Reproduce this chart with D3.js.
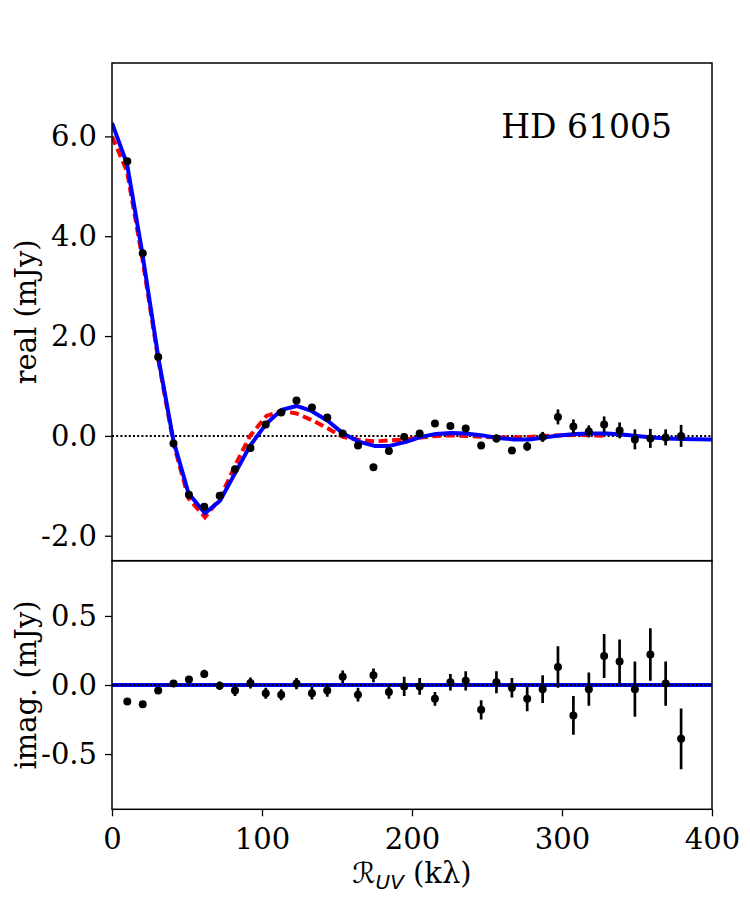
<!DOCTYPE html>
<html>
<head>
<meta charset="utf-8">
<script src="https://cdn.jsdelivr.net/npm/d3@7"></script>
<style>
  body { margin: 0; background: #fff; }
  text { font-family: "DejaVu Serif", serif; fill: #000; }
</style>
</head>
<body>
<svg class="plot" width="750" height="900"></svg>
<script>
// binned uv distances (klambda)
var uvDist = [10.2, 20.5, 30.8, 41.0, 51.3, 61.5, 71.8, 82.0, 92.3, 102.5, 112.8, 123.0, 133.3,
  143.5, 153.8, 164.0, 174.3, 184.6, 194.8, 205.1, 215.3, 225.6, 235.8, 246.1, 256.3, 266.6,
  276.8, 287.1, 297.3, 307.6, 317.9, 328.1, 338.4, 348.6, 358.9, 369.1, 379.4];
// real part of visibilities (mJy)
var realVis = [5.50, 3.66, 1.58, -0.15, -1.18, -1.42, -1.20, -0.67, -0.24, 0.23, 0.47, 0.71, 0.57,
  0.37, 0.05, -0.19, -0.63, -0.30, -0.02, 0.05, 0.25, 0.20, 0.15, -0.19, -0.05, -0.29,
  -0.21, -0.02, 0.38, 0.19, 0.09, 0.23, 0.11, -0.07, -0.05, -0.03, 0.00];
// imaginary part (mJy)
var imagVis = [-0.12, -0.14, -0.04, 0.01, 0.04, 0.08, -0.005, -0.04, 0.015, -0.06, -0.07, 0.01, -0.06,
  -0.04, 0.06, -0.07, 0.07, -0.05, -0.01, -0.01, -0.10, 0.02, 0.03, -0.18, 0.02, -0.02,
  -0.10, -0.03, 0.13, -0.22, -0.03, 0.21, 0.17, -0.03, 0.22, 0.01, -0.39];
// 1-sigma uncertainties (mJy)
var visErr = [0.01, 0.01, 0.015, 0.015, 0.02, 0.03, 0.03, 0.04, 0.04, 0.04, 0.04, 0.04, 0.045,
  0.045, 0.045, 0.05, 0.05, 0.05, 0.07, 0.06, 0.05, 0.06, 0.07, 0.07, 0.08, 0.07,
  0.09, 0.10, 0.15, 0.14, 0.12, 0.16, 0.16, 0.20, 0.19, 0.16, 0.22];

// model 1 (blue, solid)
var modelAx = [0, 10, 20, 31, 41, 51, 62, 72, 82, 92, 103, 113, 123, 133, 144, 154, 165, 175, 185,
  196, 206, 216, 226, 236, 247, 257, 268, 278, 288, 298, 309, 319, 330, 340, 350, 360, 370, 380, 400];
var modelAy = [6.27, 5.45, 3.70, 1.55, -0.10, -1.15, -1.55, -1.30, -0.75, -0.20, 0.25, 0.52, 0.60,
  0.50, 0.30, 0.05, -0.12, -0.20, -0.20, -0.12, -0.02, 0.04, 0.06, 0.05, 0.01, -0.04, -0.07,
  -0.07, -0.03, 0.01, 0.04, 0.05, 0.05, 0.03, 0.00, -0.03, -0.05, -0.06, -0.07];
// model 2 (red, dashed)
var modelBx = [0, 10, 20, 31, 41, 51, 62, 72, 82, 92, 103, 113, 123, 133, 144, 154, 165, 175, 185,
  196, 206, 216, 226, 236, 247, 257, 268, 278, 288, 298, 309, 319, 330];
var modelBy = [6.00, 5.30, 3.60, 1.50, -0.15, -1.25, -1.63, -1.25, -0.60, 0.00, 0.40, 0.50, 0.45,
  0.32, 0.15, -0.02, -0.08, -0.11, -0.09, -0.07, -0.03, 0.00, 0.01, 0.00, -0.02, -0.03, -0.03,
  -0.02, 0.00, 0.01, 0.02, 0.01, 0.00];

var realTicks = [-2, 0, 2, 4, 6];
var imagTicks = [-0.5, 0, 0.5];
var uvTicks = [0, 100, 200, 300, 400];

var svg = d3.select(".plot");
// panel edges in pixels
var pLeft = 112, pRight = 712, pTop = 63, pMid = 560.7, pBottom = 809.3;

var x = d3.scaleLinear().domain([0, 400]).range([pLeft, pRight]);
var yRe = d3.scaleLinear().domain([-2.5, 7.47]).range([pMid, pTop]);
var yIm = d3.scaleLinear().domain([-0.9, 0.9]).range([pBottom, pMid]);

var data = uvDist.map(function(d, i) {
  return {u: d, re: realVis[i], im: imagVis[i], err: visErr[i]};
});

// clip paths for each panel
var defs = svg.append("defs");
defs.append("clipPath").attr("id", "clipTop").append("rect")
    .attr("x", pLeft).attr("y", pTop).attr("width", pRight - pLeft).attr("height", pMid - pTop);
defs.append("clipPath").attr("id", "clipBot").append("rect")
    .attr("x", pLeft).attr("y", pMid).attr("width", pRight - pLeft).attr("height", pBottom - pMid);

function line(yScale) {
  return d3.line().x(function(d) { return x(d[0]); }).y(function(d) { return yScale(d[1]); });
}

var lw = 4; // model line width

// ---- top panel ----
var gt = svg.append("g").attr("clip-path", "url(#clipTop)");
gt.append("line")
    .attr("x1", x(0)).attr("x2", x(400)).attr("y1", yRe(0)).attr("y2", yRe(0))
    .attr("stroke", "#000").attr("stroke-width", 2).attr("stroke-dasharray", "2,2.2");

gt.append("path")
    .datum(modelBx.map(function(d, i) { return [d, modelBy[i]]; }))
    .attr("d", line(yRe))
    .attr("fill", "none").attr("stroke", "#ff0000").attr("stroke-width", lw)
    .attr("stroke-dasharray", "9,4.5");

gt.append("path")
    .datum(modelAx.map(function(d, i) { return [d, modelAy[i]]; }))
    .attr("d", line(yRe))
    .attr("fill", "none").attr("stroke", "#0000ff").attr("stroke-width", lw)
    .attr("stroke-linejoin", "round");

gt.selectAll(".ebar").data(data).enter().append("line")
    .attr("class", "ebar")
    .attr("x1", function(d) { return x(d.u); }).attr("x2", function(d) { return x(d.u); })
    .attr("y1", function(d) { return yRe(d.re - d.err); })
    .attr("y2", function(d) { return yRe(d.re + d.err); })
    .attr("stroke", "#000").attr("stroke-width", 2.7);

gt.selectAll(".dot").data(data).enter().append("circle")
    .attr("class", "dot")
    .attr("cx", function(d) { return x(d.u); })
    .attr("cy", function(d) { return yRe(d.re); })
    .attr("r", 4).attr("fill", "#000");

// ---- bottom panel ----
var gb = svg.append("g").attr("clip-path", "url(#clipBot)");
gb.append("line")
    .attr("x1", x(0)).attr("x2", x(400)).attr("y1", yIm(0)).attr("y2", yIm(0))
    .attr("stroke", "#0000ff").attr("stroke-width", lw);
gb.append("line")
    .attr("x1", x(0)).attr("x2", x(400)).attr("y1", yIm(0)).attr("y2", yIm(0))
    .attr("stroke", "#000").attr("stroke-width", 2).attr("stroke-dasharray", "2,2.2");

gb.selectAll(".ebar").data(data).enter().append("line")
    .attr("class", "ebar")
    .attr("x1", function(d) { return x(d.u); }).attr("x2", function(d) { return x(d.u); })
    .attr("y1", function(d) { return yIm(d.im - d.err); })
    .attr("y2", function(d) { return yIm(d.im + d.err); })
    .attr("stroke", "#000").attr("stroke-width", 2.7);

gb.selectAll(".dot").data(data).enter().append("circle")
    .attr("class", "dot")
    .attr("cx", function(d) { return x(d.u); })
    .attr("cy", function(d) { return yIm(d.im); })
    .attr("r", 4).attr("fill", "#000");

// ---- axes ----
function styleAxis(sel) {
  sel.select(".domain").remove();
  sel.selectAll(".tick line").attr("stroke", "#000").attr("stroke-width", 1.3);
  sel.selectAll(".tick text").style("font-size", "29px").style("font-family", "DejaVu Serif, serif");
}

svg.append("g").attr("transform", "translate(" + pLeft + ",0)")
    .call(d3.axisLeft(yRe).tickValues(realTicks).tickFormat(d3.format(".1f")).tickSize(7).tickPadding(8))
    .call(styleAxis);

svg.append("g").attr("transform", "translate(" + pLeft + ",0)")
    .call(d3.axisLeft(yIm).tickValues(imagTicks).tickFormat(d3.format(".1f")).tickSize(7).tickPadding(8))
    .call(styleAxis);

svg.append("g").attr("transform", "translate(0," + pBottom + ")")
    .call(d3.axisBottom(x).tickValues(uvTicks).tickFormat(d3.format("d")).tickSize(7).tickPadding(12))
    .call(styleAxis);

// replace d3's unicode minus by plain hyphen like the reference
svg.selectAll(".tick text").text(function() { return d3.select(this).text().replace("\u2212", "-"); });

// frames
[[pTop, pMid], [pMid, pBottom]].forEach(function(p) {
  svg.append("rect")
      .attr("x", pLeft).attr("y", p[0]).attr("width", pRight - pLeft).attr("height", p[1] - p[0])
      .attr("fill", "none").attr("stroke", "#000").attr("stroke-width", 1.5);
});

// labels
svg.append("text")
    .attr("transform", "translate(36," + ((pTop + pMid) / 2) + ") rotate(-90)")
    .attr("text-anchor", "middle")
    .style("font-size", "29px")
    .text("real (mJy)");

svg.append("text")
    .attr("transform", "translate(36," + ((pMid + pBottom) / 2) + ") rotate(-90)")
    .attr("text-anchor", "middle")
    .style("font-size", "29px")
    .text("imag. (mJy)");

var xl = svg.append("text")
    .attr("x", (pLeft + pRight) / 2).attr("y", 883)
    .attr("text-anchor", "middle")
    .style("font-size", "29px");
xl.append("tspan").style("font-family", "DejaVu Sans, sans-serif").style("font-style", "italic").text("\u211B");
xl.append("tspan").attr("dy", 6).style("font-size", "20px").style("font-family", "DejaVu Sans, sans-serif")
    .style("font-style", "italic").text("UV");
xl.append("tspan").attr("dy", -6).text(" (k\u03BB)");

svg.append("text")
    .attr("x", 672).attr("y", 138)
    .attr("text-anchor", "end")
    .style("font-size", "33px")
    .text("HD 61005");
</script>
</body>
</html>
